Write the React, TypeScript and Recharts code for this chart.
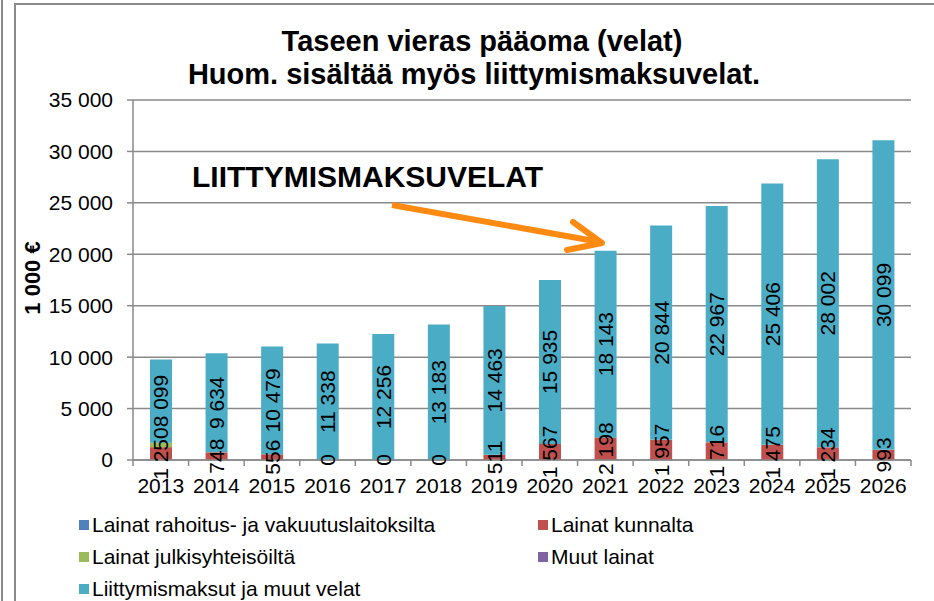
import React from "react";
import { BarChart, Bar, XAxis, YAxis, CartesianGrid, LabelList } from "recharts";

const years = ["2013", "2014", "2015", "2016", "2017", "2018", "2019", "2020", "2021", "2022", "2023", "2024", "2025", "2026"];
const rahoitus = [0, 0, 0, 0, 0, 0, 0, 0, 0, 0, 0, 0, 0, 0];
const kunnalta = [1250, 748, 556, 0, 0, 0, 511, 1567, 2198, 1957, 1716, 1475, 1234, 993];
const julkis = [430, 0, 0, 0, 0, 0, 0, 0, 0, 0, 0, 0, 0, 0];
const muut = [0, 0, 0, 0, 0, 0, 0, 0, 0, 0, 0, 0, 0, 0];
const liittymis = [8099, 9634, 10479, 11338, 12256, 13183, 14463, 15935, 18143, 20844, 22967, 25406, 28002, 30099];
const yTicks = [0, 5000, 10000, 15000, 20000, 25000, 30000, 35000];

const seriesNames = [
  "Lainat rahoitus- ja vakuutuslaitoksilta",
  "Lainat kunnalta",
  "Lainat julkisyhteisöiltä",
  "Muut lainat",
  "Liittymismaksut ja muut velat",
];
const colors = ["#4F81BD", "#C0504D", "#9BBB59", "#8064A2", "#4BACC6"];

const FONT = '"Liberation Sans", Arial, sans-serif';
const GRID = "#8a8a8a";

function fmt(v: number) {
  return String(v).replace(/\B(?=(\d{3})+(?!\d))/g, " ");
}

const data = years.map((year, i) => ({
  year,
  rahoitus: rahoitus[i],
  kunnalta: kunnalta[i],
  julkis: julkis[i],
  muut: muut[i],
  liittymis: liittymis[i],
}));

function rotatedText(cx: number, cy: number, str: string) {
  return (
    <text
      x={cx}
      y={cy}
      transform={`rotate(-90 ${cx} ${cy})`}
      textAnchor="middle"
      dominantBaseline="central"
      fontSize={21}
      fontFamily={FONT}
      fill="#000"
    >
      {str}
    </text>
  );
}

// rotated value label, centred on the segment
function VerticalLabel(props: any) {
  const { x, y, width, height, value } = props;
  if (value == null) return null;
  return rotatedText(Number(x) + Number(width) / 2, Number(y) + Number(height) / 2, fmt(Number(value)));
}

// zero-valued "kunnalta" labels: drawn at the foot of the blue segment
function ZeroLabel(props: any) {
  const { x, y, width, height, value } = props;
  if (Number(value) !== 0) return null;
  return rotatedText(Number(x) + Number(width) / 2, Number(y) + Number(height), "0");
}

// year label + tick marks between the categories
function XTick(props: any) {
  const { x, y, payload } = props;
  const half = payload?.offset || 27.8;
  const last = payload?.value === years[years.length - 1];
  return (
    <g>
      <line x1={x - half} x2={x - half} y1={y} y2={y + 6} stroke={GRID} strokeWidth={1.5} />
      {last && <line x1={x + half} x2={x + half} y1={y} y2={y + 6} stroke={GRID} strokeWidth={1.5} />}
      <text x={x} y={y + 33} textAnchor="middle" fontSize={21} fontFamily={FONT} fill="#000">
        {payload.value}
      </text>
    </g>
  );
}

export default function App() {
  const keys = ["rahoitus", "kunnalta", "julkis", "muut", "liittymis"];
  return (
    <div style={{ position: "absolute", left: 0, top: 0, width: 934, height: 601, background: "#fff", overflow: "hidden" }}>
      {/* frame lines */}
      <div style={{ position: "absolute", left: 1, top: 0, width: 0, height: 601, borderLeft: `2px solid ${GRID}` }} />
      <div style={{ position: "absolute", left: 14, top: 3, width: 940, height: 620, borderLeft: `2px solid ${GRID}`, borderTop: `2px solid ${GRID}` }} />

      <div style={{ position: "absolute", left: 0, top: 0 }}>
        <BarChart
          width={934}
          height={601}
          data={data}
          margin={{ top: 100, right: 23, left: 0, bottom: 101 }}
          barSize={22}
        >
          <CartesianGrid vertical={false} stroke={GRID} strokeWidth={1.5} />
          <XAxis
            dataKey="year"
            height={40}
            axisLine={{ stroke: GRID, strokeWidth: 1.5 }}
            tickLine={false}
            tickSize={0}
            tickMargin={0}
            tick={<XTick />}
            interval={0}
          />
          <YAxis
            width={133}
            domain={[0, 35000]}
            ticks={yTicks}
            tickFormatter={(v: number) => fmt(v)}
            axisLine={{ stroke: GRID, strokeWidth: 1.5 }}
            tickLine={{ stroke: GRID, strokeWidth: 1.5 }}
            tickSize={6}
            tickMargin={14}
            tick={{ fill: "#000", fontSize: 21, fontFamily: FONT }}
            interval={0}
          />
          {keys.map((k, i) => (
            <Bar key={k} dataKey={k} stackId="a" fill={colors[i]} name={seriesNames[i]} isAnimationActive={false}>
              {k === "kunnalta" && <LabelList dataKey="kunnalta" content={<VerticalLabel />} />}
              {k === "liittymis" && <LabelList dataKey="liittymis" content={<VerticalLabel />} />}
              {k === "liittymis" && <LabelList dataKey="kunnalta" content={<ZeroLabel />} />}
            </Bar>
          ))}
        </BarChart>
      </div>

      {/* title, axis title, annotation */}
      <svg width={934} height={601} style={{ position: "absolute", left: 0, top: 0, pointerEvents: "none" }}>
        <text x={482} y={51} textAnchor="middle" fontSize={29} fontWeight="bold" fontFamily={FONT} fill="#000">
          Taseen vieras pääoma (velat)
        </text>
        <text x={474} y={84} textAnchor="middle" fontSize={29} fontWeight="bold" fontFamily={FONT} fill="#000">
          Huom. sisältää myös liittymismaksuvelat.
        </text>
        <text
          x={32}
          y={278}
          transform="rotate(-90 32 278)"
          textAnchor="middle"
          dominantBaseline="central"
          fontSize={22}
          fontWeight="bold"
          fontFamily={FONT}
          fill="#000"
        >
          1 000 €
        </text>
        <text x={192} y={187} fontSize={30} fontWeight="bold" fontFamily={FONT} fill="#000">
          LIITTYMISMAKSUVELAT
        </text>
        <line x1={392} y1={205} x2={600} y2={242} stroke="#FF8A12" strokeWidth={6} />
        <polyline points="573,222 602,243 567,250" fill="none" stroke="#FF8A12" strokeWidth={6} strokeLinecap="round" strokeLinejoin="round" />
      </svg>

      {/* legend */}
      <div style={{ position: "absolute", left: 79, top: 510, fontFamily: FONT, fontSize: 21, color: "#000", display: "grid", gridTemplateColumns: "459px 300px", rowGap: 3, lineHeight: "29px" }}>
        {seriesNames.map((n, i) => (
          <div key={n} style={{ display: "flex", alignItems: "center", whiteSpace: "nowrap" }}>
            <span style={{ display: "inline-block", width: 10, height: 10, background: colors[i], marginRight: 3 }} />
            {n}
          </div>
        ))}
      </div>
    </div>
  );
}
